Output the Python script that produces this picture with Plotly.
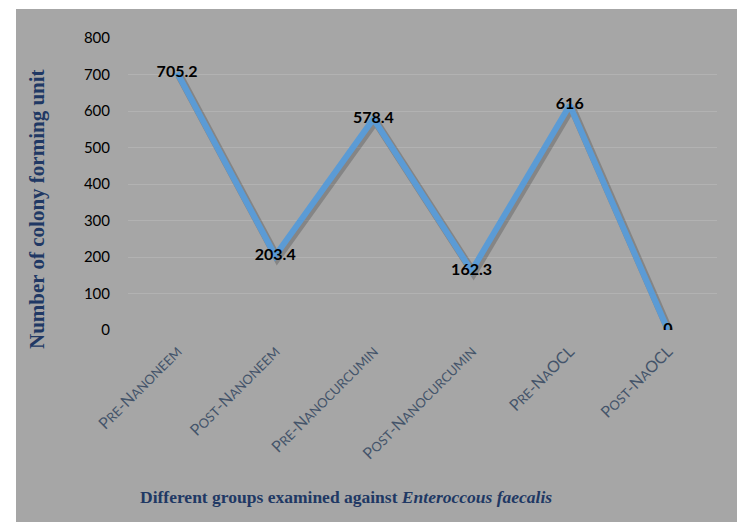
import plotly.graph_objects as go

categories = ["Pre-Nanoneem", "Post-Nanoneem", "Pre-Nanocurcumin",
              "Post-Nanocurcumin", "Pre-NaOCL", "Post-NaOCL"]
values = [705.2, 203.4, 578.4, 162.3, 616, 0]
labels = ["705.2", "203.4", "578.4", "162.3", "616", "0"]
y_ticks = [0, 100, 200, 300, 400, 500, 600, 700, 800]


def small_caps(s, small=13):
    out = ""
    buf = ""
    for ch in s:
        if ch.islower():
            buf += ch.upper()
        else:
            if buf:
                out += f"<span style='font-size:{small}px'>{buf}</span>"
                buf = ""
            out += ch
    if buf:
        out += f"<span style='font-size:{small}px'>{buf}</span>"
    return out


BG = "#a6a6a6"
fig = go.Figure()
# offset soft shadow on hidden, slightly shifted base axes
fig.add_trace(go.Scatter(x=categories, y=values, mode="lines", xaxis="x", yaxis="y",
                         line=dict(color="rgba(50,50,50,0.28)", width=8),
                         hoverinfo="skip", showlegend=False))
# main line on the visible overlay axes
fig.add_trace(go.Scatter(x=categories, y=values, mode="lines+text", xaxis="x2", yaxis="y2",
                         line=dict(color="#5b9bd5", width=6),
                         text=[f"<b>{t}</b>" for t in labels],
                         textposition="middle center",
                         textfont=dict(family="Lato, sans-serif", size=16, color="black"),
                         showlegend=False))

fig.update_layout(
    width=737, height=522,
    margin=dict(l=128, r=20, t=38, b=192),
    paper_bgcolor=BG, plot_bgcolor=BG,
    xaxis=dict(range=[-0.52, 5.48], visible=False),
    yaxis=dict(range=[6, 806], visible=False),
    xaxis2=dict(overlaying="x", anchor="y2", side="bottom",
                range=[-0.5, 5.5], tickvals=categories,
                ticktext=[small_caps(c) for c in categories],
                tickangle=-45, showgrid=False, zeroline=False, showline=False,
                ticklabelstandoff=8,
                tickfont=dict(family="Lato, sans-serif", size=16, color="#44546a")),
    yaxis2=dict(overlaying="y", anchor="x2", side="left",
                range=[0, 800], tickvals=y_ticks, showgrid=True,
                gridcolor="#b2b2b2", gridwidth=1, zeroline=False, showline=False,
                ticklabelstandoff=17,
                tickfont=dict(family="Lato, sans-serif", size=15, color="black")),
    shapes=[
        dict(type="rect", xref="paper", yref="paper", x0=-0.3, x1=1.1,
             y0=(330 - 9) / 292, y1=1.2, fillcolor="white", line_width=0, layer="below"),
        dict(type="rect", xref="paper", yref="paper", x0=-0.3, x1=(16 - 128) / 589,
             y0=-0.8, y1=1.2, fillcolor="white", line_width=0, layer="below"),
    ],
    annotations=[
        dict(text="<b>Number of colony forming unit</b>", xref="paper", yref="paper",
             x=(37 - 128) / 589, y=(330 - 209) / 292, textangle=-90, showarrow=False,
             xanchor="center", yanchor="middle",
             font=dict(family="Liberation Serif, serif", size=21, color="#203864")),
        dict(text="<b>Different groups examined against <i>Enteroccous faecalis</i></b>",
             xref="paper", yref="paper",
             x=(346 - 128) / 589, y=(330 - 497) / 292, showarrow=False,
             xanchor="center", yanchor="middle",
             font=dict(family="Liberation Serif, serif", size=17.5, color="#203864")),
    ],
)

fig.write_html("out.html")
